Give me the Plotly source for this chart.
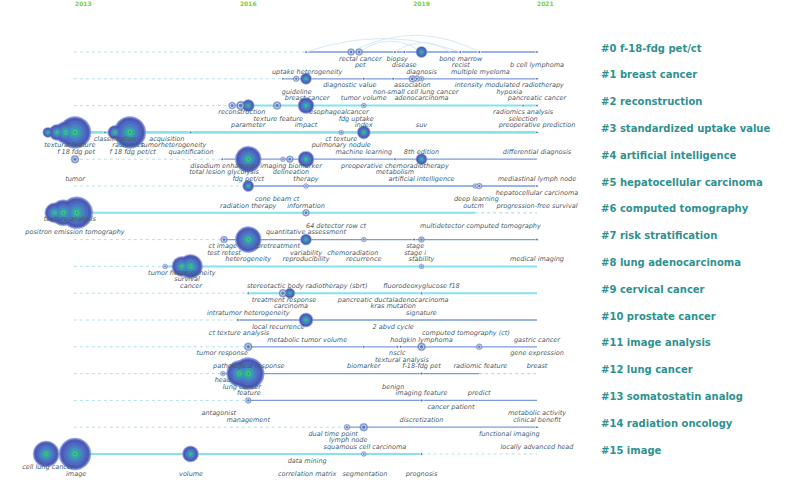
import plotly.graph_objects as go

# ---------------- data ----------------
year_ticks = [2013, 2016, 2019, 2021]

cluster_names = [
    "#0 f-18-fdg pet/ct", "#1 breast cancer", "#2 reconstruction",
    "#3 standardized uptake value", "#4 artificial intelligence",
    "#5 hepatocellular carcinoma", "#6 computed tomography",
    "#7 risk stratification", "#8 lung adenocarcinoma", "#9 cervical cancer",
    "#10 prostate cancer", "#11 image analysis", "#12 lung cancer",
    "#13 somatostatin analog", "#14 radiation oncology", "#15 image",
]
row_kind = ["b", "b", "c", "c", "b", "b", "c", "b", "c", "c", "b", "b", "b", "b", "b", "c"]
row_active_start = [2017.0, 2016.6, 2015.72, 2012.98, 2015.55, 2016.0, 2012.98, 2015.58,
                    2014.56, 2016.0, 2015.82, 2016.0, 2015.56, 2016.0, 2017.71, 2012.98]
row_active_end = [2021, 2021, 2021, 2021, 2021, 2021, 2019.93, 2021,
                  2021, 2021, 2021, 2021, 2020.0, 2021, 2021, 2019.0]
timeline_start = 2012.98
timeline_end = 2021.0

# nodes: row, first-appearance position (year), radius (citation size)
node_row = (
    [0] * 9 + [1] * 9 + [2] * 8 + [3] * 11 + [4] * 8 + [5] * 5 + [6] * 4 + [7] * 7
    + [8] * 4 + [9] * 4 + [10] * 2 + [11] * 6 + [12] * 4 + [13] * 2 + [14] * 3 + [15] * 5
)
node_year = [
    2017.0, 2017.78, 2017.92, 2018.54, 2018.70, 2019.0, 2019.67, 2020.0, 2021.0,
    2016.6, 2016.83, 2017.0, 2018.0, 2018.51, 2018.84, 2018.92, 2019.0, 2021.0,
    2015.72, 2015.87, 2016.0, 2016.5, 2017.0, 2018.0, 2020.76, 2021.0,
    2012.53, 2012.69, 2012.84, 2013.0, 2013.52, 2013.69, 2013.95, 2015.0, 2017.61, 2018.0, 2021.0,
    2013.0, 2015.55, 2016.0, 2016.6, 2016.72, 2017.0, 2018.54, 2019.0,
    2016.0, 2017.0, 2019.93, 2020.0, 2021.0,
    2012.65, 2012.8, 2013.03, 2017.0,
    2015.58, 2016.0, 2017.0, 2018.0, 2018.87, 2019.0, 2021.0,
    2014.56, 2014.85, 2015.0, 2019.0,
    2016.0, 2016.6, 2016.72, 2019.0,
    2015.82, 2017.0,
    2016.0, 2018.0, 2018.58, 2018.64, 2019.0, 2020.0,
    2015.56, 2015.85, 2016.0, 2019.0,
    2016.0, 2019.0,
    2017.71, 2018.0, 2021.0,
    2012.5, 2013.0, 2015.0, 2018.0, 2019.0,
]
node_radius = [
    1.5, 3.5, 3.5, 1.5, 1.5, 5.5, 1.5, 1.5, 1.5,
    1.5, 3, 5.5, 1.5, 1.5, 3.5, 3, 2.5, 1.5,
    3.5, 4.5, 6, 4, 8, 2.5, 1.5, 1.5,
    5, 8, 11, 16, 1.5, 7, 16, 1.5, 2.5, 6.5, 1.5,
    4, 1.5, 13, 2.5, 3.5, 8, 1.5, 5.5,
    5.5, 2.5, 2.5, 3, 1.5,
    10, 13, 16, 3.5,
    3.5, 13, 5.5, 2.5, 1.5, 3, 1.5,
    2.5, 10, 12, 2.5,
    1.5, 4, 5, 1.5,
    1.5, 7,
    4, 1.5, 1.5, 1.5, 4, 3,
    2.5, 13, 16, 1.5,
    3, 1.5,
    3, 4, 1.5,
    13, 16, 8, 2.5, 1.5,
]

# keyword labels: row, position (year), stacking level under the timeline, text
label_row = []
label_year = []
label_level = []
label_text = []


def add_labels(row, items):
    for yr, lv, tx in items:
        label_row.append(row)
        label_year.append(yr)
        label_level.append(lv)
        label_text.append(tx)


add_labels(0, [(2017.94, 1, "rectal cancer"), (2018.58, 1, "biopsy"), (2019.68, 1, "bone marrow"),
               (2017.94, 2, "pet"), (2018.70, 2, "disease"), (2019.68, 2, "recist"),
               (2021.0, 2, "b cell lymphoma"), (2017.02, 3, "uptake heterogeneity"),
               (2019.0, 3, "diagnosis"), (2020.02, 3, "multiple myeloma")])
add_labels(1, [(2017.76, 1, "diagnostic value"), (2018.84, 1, "association"),
               (2020.52, 1, "intensity modulated radiotherapy"), (2016.84, 2, "guideline"),
               (2018.90, 2, "non-small cell lung cancer"), (2020.52, 2, "hypoxia"),
               (2017.02, 3, "breast cancer"), (2018.0, 3, "tumor volume"),
               (2019.0, 3, "adenocarcinoma"), (2021.0, 3, "pancreatic cancer")])
add_labels(2, [(2015.89, 1, "reconstruction"), (2017.57, 1, "esophagealcancer"),
               (2020.76, 1, "radiomics analysis"), (2016.52, 2, "texture feature"),
               (2017.87, 2, "fdg uptake"), (2020.76, 2, "selection"), (2016.0, 3, "parameter"),
               (2017.0, 3, "impact"), (2018.0, 3, "index"), (2019.0, 3, "suv"),
               (2021.0, 3, "preoperative prediction")])
add_labels(3, [(2013.69, 1, "classification"), (2014.59, 1, "acquisition"), (2017.61, 1, "ct texture"),
               (2012.91, 2, "textural feature"), (2013.92, 2, "radiomics"),
               (2014.71, 2, "tumorheterogeneity"), (2017.61, 2, "pulmonary nodule"),
               (2013.02, 3, "f 18 fdg pet"), (2014.0, 3, "f 18 fdg pet/ct"),
               (2015.01, 3, "quantification"), (2018.0, 3, "machine learning"),
               (2019.0, 3, "8th edition"), (2021.0, 3, "differential diagnosis")])
add_labels(4, [(2015.55, 1, "disodium enhanced"), (2016.74, 1, "imaging biomarker"),
               (2018.54, 1, "preoperative chemoradiotherapy"), (2015.58, 2, "total lesion glycolysis"),
               (2016.74, 2, "delineation"), (2018.54, 2, "metabolism"), (2016.0, 3, "fdg pet/ct"),
               (2017.0, 3, "therapy"), (2019.0, 3, "artificial intelligence"),
               (2021.0, 3, "mediastinal lymph node")])
add_labels(4, [(2013.0, 3, "tumor")])
add_labels(5, [(2021.0, 1, "hepatocellular carcinoma"), (2016.50, 2, "cone beam ct"),
               (2019.95, 2, "deep learning"), (2016.0, 3, "radiation therapy"),
               (2017.0, 3, "information"), (2019.90, 3, "outcm"),
               (2021.0, 3, "progression-free survival")])
add_labels(6, [(2012.91, 1, "texture analysis"), (2017.52, 2, "64 detector row ct"),
               (2020.02, 2, "multidetector computed tomography"),
               (2013.0, 3, "positron emission tomography"), (2017.0, 3, "quantitative assessment")])
add_labels(7, [(2015.56, 1, "ct image"), (2016.52, 1, "pretreatment"), (2018.89, 1, "stage"),
               (2015.58, 2, "test retest"), (2017.0, 2, "variability"), (2017.81, 2, "chemoradiation"),
               (2018.89, 2, "stage i"), (2016.0, 3, "heterogeneity"), (2017.0, 3, "reproducibility"),
               (2018.0, 3, "recurrence"), (2019.0, 3, "stability"), (2021.0, 3, "medical imaging")])
add_labels(8, [(2014.85, 1, "tumor heterogeneity"), (2014.94, 2, "survival"), (2015.01, 3, "cancer"),
               (2017.02, 3, "stereotactic body radiotherapy (sbrt)"),
               (2019.0, 3, "fluorodeoxyglucose f18")])
add_labels(9, [(2016.62, 1, "treatment response"), (2018.51, 1, "pancreatic ductaladenocarcinoma"),
               (2016.74, 2, "carcinoma"), (2018.51, 2, "kras mutation"),
               (2016.0, 3, "intratumor heterogeneity"), (2019.0, 3, "signature")])
add_labels(10, [(2016.52, 1, "local recurrence"), (2018.51, 1, "2 abvd cycle"),
                (2015.84, 2, "ct texture analysis"), (2019.77, 2, "computed tomography (ct)"),
                (2017.02, 3, "metabolic tumor volume"), (2019.0, 3, "hodgkin lymphoma"),
                (2021.0, 3, "gastric cancer")])
add_labels(11, [(2015.55, 1, "tumor response"), (2018.58, 1, "nsclc"), (2021.0, 1, "gene expression"),
                (2018.66, 2, "textural analysis"), (2016.01, 3, "pathological response"),
                (2018.0, 3, "biomarker"), (2019.0, 3, "f-18-fdg pet"),
                (2020.02, 3, "radiomic feature"), (2021.0, 3, "breast")])
add_labels(12, [(2015.56, 1, "head"), (2015.89, 2, "lung cancer"), (2018.51, 2, "benign"),
                (2016.01, 3, "feature"), (2019.0, 3, "imaging feature"), (2020.0, 3, "predict")])
add_labels(13, [(2019.51, 1, "cancer patient"), (2015.49, 2, "antagonist"),
                (2021.0, 2, "metabolic activity"), (2016.0, 3, "management"),
                (2019.0, 3, "discretization"), (2021.0, 3, "clinical benefit")])
add_labels(14, [(2017.47, 1, "dual time point"), (2020.52, 1, "functional imaging"),
                (2017.73, 2, "lymph node"), (2018.02, 3, "squamous cell carcinoma"),
                (2021.0, 3, "locally advanced head")])
add_labels(15, [(2017.02, 1, "data mining"), (2012.53, 2, "cell lung cancer"), (2013.02, 3, "image"),
                (2015.01, 3, "volume"), (2017.02, 3, "correlation matrix"),
                (2018.02, 3, "segmentation"), (2019.0, 3, "prognosis")])

# co-occurrence links drawn as arcs above a timeline
link_row = [0, 0, 0, 0]
link_from = [2017.0, 2017.78, 2018.54, 2017.92]
link_to = [2019.67, 2020.0, 2019.5, 2019.0]
link_height = [0.5, 0.62, 0.35, 0.4]

# ---------------- styling ----------------
LABEL_FONT = "DejaVu Sans"
level_offset = {1: 0.262, 2: 0.50, 3: 0.745}
kind_color = {"b": "#7d9ae0", "c": "#86e3ec"}
kind_width = {"b": 1.3, "c": 2.0}

fig = go.Figure()

# timelines
for i in range(len(cluster_names)):
    k = row_kind[i]
    s, e = row_active_start[i], row_active_end[i]
    if s > timeline_start:
        fig.add_trace(go.Scatter(x=[timeline_start, s], y=[i, i], mode="lines",
                                 line=dict(color="#b3e0ea", width=1, dash="dot"),
                                 hoverinfo="skip", showlegend=False))
    w = kind_width[k] + (0.6 if i == 3 else 0)
    fig.add_trace(go.Scatter(x=[s, e], y=[i, i], mode="lines",
                             line=dict(color=kind_color[k], width=w),
                             hoverinfo="skip", showlegend=False))
    if e < timeline_end:
        fig.add_trace(go.Scatter(x=[e, timeline_end], y=[i, i], mode="lines",
                                 line=dict(color="#b3e0ea", width=1.2, dash="dot"),
                                 hoverinfo="skip", showlegend=False))

# arcs
for r, a, b, h in zip(link_row, link_from, link_to, link_height):
    xs, ys = [], []
    n = 30
    for j in range(n + 1):
        t = j / n
        xs.append((1 - t) ** 2 * a + 2 * t * (1 - t) * (a + b) / 2 + t ** 2 * b)
        ys.append(r - 2 * t * (1 - t) * 2 * h)
    fig.add_trace(go.Scatter(x=xs, y=ys, mode="lines",
                             line=dict(color="#d3ebf3", width=1),
                             hoverinfo="skip", showlegend=False))

# nodes
big = [(x, r, s) for x, r, s in zip(node_year, node_row, node_radius) if s >= 5]
mid = [(x, r, s) for x, r, s in zip(node_year, node_row, node_radius) if 2.5 <= s < 5]
small = [(x, r, s) for x, r, s in zip(node_year, node_row, node_radius) if s < 2.5]

ring_layers = [
    (2.0, "#6b7dd2", 0.6, "#9aa9ea"),
    (1.8, "#4658b2", 0, None),
    (1.45, "#5169c0", 0, None),
    (1.1, "#4880c4", 0, None),
    (0.75, "#399ab4", 0, None),
    (0.47, "#2fb19e", 0, None),
    (0.26, "#4ccd72", 0, None),
    (0.1, "#1f6e33", 0, None),
]
for f, col, lw, lc in ring_layers:
    fig.add_trace(go.Scatter(
        x=[b[0] for b in big], y=[b[1] for b in big], mode="markers",
        marker=dict(size=[b[2] * f for b in big], color=col, opacity=0.93,
                    line=dict(width=lw, color=lc or col)),
        hoverinfo="skip", showlegend=False))

fig.add_trace(go.Scatter(
    x=[m[0] for m in mid], y=[m[1] for m in mid], mode="markers",
    marker=dict(size=[m[2] * 2 for m in mid], color="#4a62b3",
                line=dict(width=0.5, color="#8b9ee0")),
    hoverinfo="skip", showlegend=False))
fig.add_trace(go.Scatter(
    x=[m[0] for m in mid], y=[m[1] for m in mid], mode="markers",
    marker=dict(size=[m[2] * 1.1 for m in mid], color="#4386bb"),
    hoverinfo="skip", showlegend=False))
fig.add_trace(go.Scatter(
    x=[m[0] for m in small], y=[m[1] for m in small], mode="markers",
    marker=dict(size=[m[2] * 2 for m in small], color="#3f5e9c"),
    hoverinfo="skip", showlegend=False))

# keyword labels
fig.add_trace(go.Scatter(
    x=label_year,
    y=[r + level_offset[lv] for r, lv in zip(label_row, label_level)],
    mode="text", text=label_text, textposition="middle center",
    textfont=dict(family=LABEL_FONT, size=6.5, color="#3f5b69", style="italic"),
    cliponaxis=False, hoverinfo="skip", showlegend=False))

# cluster names
fig.add_trace(go.Scatter(
    x=[2022.11] * len(cluster_names), y=[i - 0.11 for i in range(len(cluster_names))],
    mode="text", text=cluster_names, textposition="middle right",
    textfont=dict(family=LABEL_FONT, size=10, color="#2f918f", weight="bold"),
    cliponaxis=False, hoverinfo="skip", showlegend=False))

# year labels (edge years are drawn to the right of their slice)
fig.add_trace(go.Scatter(
    x=year_ticks, y=[-1.79] * len(year_ticks), mode="text",
    text=[str(y) for y in year_ticks],
    textposition=["middle right", "middle center", "middle center", "middle right"],
    textfont=dict(family=LABEL_FONT, size=6, color="#78cf35", weight="bold"),
    cliponaxis=False, hoverinfo="skip", showlegend=False))

fig.update_layout(
    width=787, height=490,
    margin=dict(l=0, r=0, t=0, b=0),
    paper_bgcolor="white", plot_bgcolor="white",
    xaxis=dict(range=[2011.7013, 2025.329], visible=False, fixedrange=True),
    yaxis=dict(range=[16.343, -1.940], visible=False, fixedrange=True),
    showlegend=False,
)

fig.write_html("out.html", config={"displayModeBar": False},
               post_script="document.body.style.margin='0';")
